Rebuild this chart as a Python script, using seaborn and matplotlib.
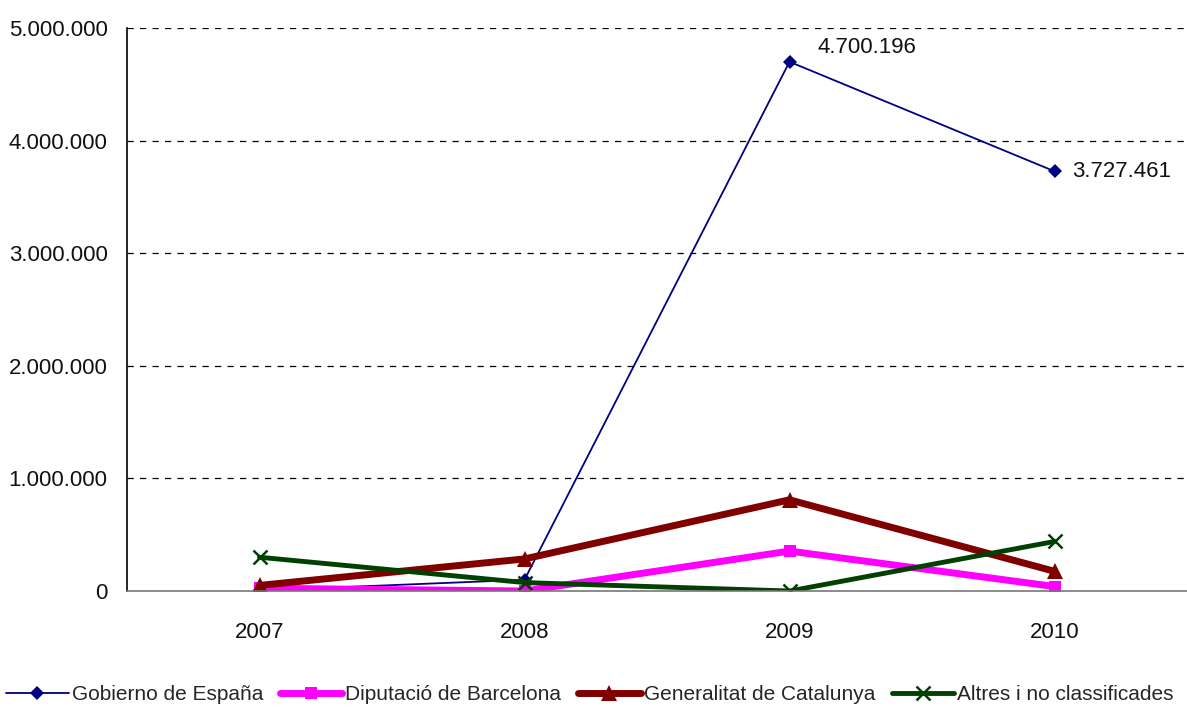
import matplotlib
matplotlib.use("Agg")
import matplotlib.pyplot as plt
import matplotlib.ticker as mticker
import pandas as pd
import seaborn as sns

years = ["2007", "2008", "2009", "2010"]
gobierno = [5000, 100000, 4700196, 3727461]
diputacio = [25000, 0, 355000, 40000]
generalitat = [50000, 285000, 810000, 175000]
altres = [300000, 75000, 0, 440000]

series_names = ["Gobierno de España", "Diputació de Barcelona",
                "Generalitat de Catalunya", "Altres i no classificades"]

sns.set_theme(style="white")
plt.rcParams["font.family"] = ["Liberation Sans Narrow", "Liberation Sans", "DejaVu Sans"]

df = pd.DataFrame({"year": years * 4,
                   "value": gobierno + diputacio + generalitat + altres,
                   "serie": sum([[n] * 4 for n in series_names], [])})

# estil de cada serie
styles = {
    "Gobierno de España": dict(color="#000080", lw=1.3, marker="D", ms=7, mew=0),
    "Diputació de Barcelona": dict(color="#FF00FF", lw=5, marker="s", ms=9, mew=0),
    "Generalitat de Catalunya": dict(color="#800000", lw=5, marker="^", ms=12, mew=0),
    "Altres i no classificades": dict(color="#004000", lw=3.5, marker="x", ms=10, mew=1.8),
}

fig = plt.figure(figsize=(11.87, 7.09), dpi=100)
ax = fig.add_axes([0.107, 0.1664, 0.893, 0.7941])

for name in series_names:
    st = styles[name]
    sub = df[df.serie == name]
    sns.lineplot(data=sub, x="year", y="value", ax=ax, color=st["color"],
                 linewidth=st["lw"], marker=st["marker"], markersize=st["ms"],
                 markeredgewidth=st["mew"], markeredgecolor=st["color"],
                 label=name, sort=False, legend=False)

ax.set_xlim(-0.5, 3.5)
ax.set_ylim(0, 5000000)
ax.set_yticks(range(0, 5000001, 1000000))
ax.yaxis.set_major_formatter(mticker.FuncFormatter(lambda v, p: f"{int(v):,}".replace(",", ".")))
ax.set_xlabel("")
ax.set_ylabel("")
ax.tick_params(axis="both", length=0, labelsize=16, colors="#111111")
ax.tick_params(axis="x", pad=22)
ax.tick_params(axis="y", pad=14)

for yv in range(1000000, 5000001, 1000000):
    ax.axhline(yv, color="black", lw=0.9, ls=(0, (5, 5)), zorder=0)

for s in ["top", "right"]:
    ax.spines[s].set_visible(False)
ax.spines["left"].set_color("black")
ax.spines["left"].set_linewidth(1.2)
ax.spines["bottom"].set_color("#777777")
ax.spines["bottom"].set_linewidth(1.2)

# etiquetes de dades
ax.annotate(f"{gobierno[2]:,}".replace(",", "."), (2, gobierno[2]), xytext=(20, 10),
            textcoords="offset points", fontsize=16, color="#111111", va="center")
ax.annotate(f"{gobierno[3]:,}".replace(",", "."), (3, gobierno[3]), xytext=(13, 0),
            textcoords="offset points", fontsize=16, color="#111111", va="center")

handles = ax.get_lines()[:4]
fig.legend(handles, series_names, loc="center", bbox_to_anchor=(0.497, 0.02),
           ncol=4, frameon=False, fontsize=15, handlelength=3.0, handletextpad=0.15,
           columnspacing=0.8, borderaxespad=0)

fig.savefig("out.png", dpi=100)
